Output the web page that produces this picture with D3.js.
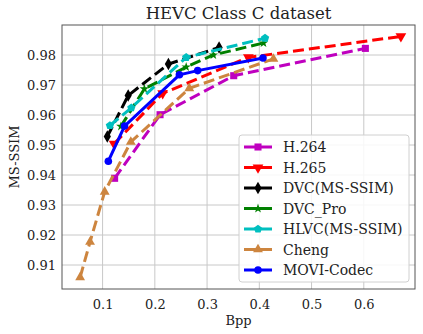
<!DOCTYPE html>
<html>
<head>
<meta charset="utf-8">
<script src="https://cdn.jsdelivr.net/npm/d3@7"></script>
<style>
  body { margin: 0; background: #fff; }
  svg text { font-family: "DejaVu Serif", serif; fill: #222; }
</style>
</head>
<body>
<svg id="chart" width="423" height="334"></svg>
<script>
// data
const seriesNames = ["H.264", "H.265", "DVC(MS-SSIM)", "DVC_Pro", "HLVC(MS-SSIM)", "Cheng", "MOVI-Codec"];
const h264 = [[0.123, 0.9389], [0.210, 0.9601], [0.351, 0.9731], [0.603, 0.9822]];
const h265 = [[0.122, 0.9504], [0.215, 0.9672], [0.379, 0.9792], [0.671, 0.9862]];
const dvc = [[0.109, 0.9528], [0.149, 0.9665], [0.226, 0.9770], [0.323, 0.9825]];
const dvcPro = [[0.135, 0.9562], [0.180, 0.9687], [0.260, 0.9760], [0.312, 0.9800], [0.408, 0.9840]];
const hlvc = [[0.114, 0.9565], [0.155, 0.9624], [0.260, 0.9792], [0.411, 0.9856]];
const cheng = [[0.057, 0.9059], [0.076, 0.9177], [0.104, 0.9344], [0.154, 0.9510], [0.266, 0.9689], [0.427, 0.9787]];
const movi = [[0.111, 0.9446], [0.142, 0.9563], [0.247, 0.9734], [0.282, 0.9748], [0.407, 0.9790]];
const xTicks = [0.1, 0.2, 0.3, 0.4, 0.5, 0.6];
const yTicks = [0.91, 0.92, 0.93, 0.94, 0.95, 0.96, 0.97, 0.98];

const series = [
  { name: seriesNames[0], data: h264, color: "#bf00bf", dash: true, sym: d3.symbolSquare, size: 50 },
  { name: seriesNames[1], data: h265, color: "#ff0000", dash: true, sym: "tridown", size: 50 },
  { name: seriesNames[2], data: dvc, color: "#000000", dash: true, sym: d3.symbolDiamond, size: 45 },
  { name: seriesNames[3], data: dvcPro, color: "#008000", dash: true, sym: d3.symbolStar, size: 28 },
  { name: seriesNames[4], data: hlvc, color: "#00bfbf", dash: true, sym: "pentagon", size: 45 },
  { name: seriesNames[5], data: cheng, color: "#cd853f", dash: true, sym: d3.symbolTriangle, size: 42 },
  { name: seriesNames[6], data: movi, color: "#0000ff", dash: false, sym: d3.symbolCircle, size: 45 }
];

const svg = d3.select("#chart");
const margin = { top: 25, right: 8, bottom: 45, left: 62 };
const W = 423, H = 334;

const x = d3.scaleLinear().domain([0.0223, 0.698]).range([margin.left, W - margin.right]);
const y = d3.scaleLinear().domain([0.902, 0.990]).range([H - margin.bottom, margin.top]);

// grid
const grid = svg.append("g");
grid.selectAll(".gx").data(xTicks).enter().append("line")
  .attr("x1", d => x(d)).attr("x2", d => x(d))
  .attr("y1", margin.top).attr("y2", H - margin.bottom)
  .attr("stroke", "#c8c8c8").attr("stroke-width", 1);
grid.selectAll(".gy").data(yTicks).enter().append("line")
  .attr("y1", d => y(d)).attr("y2", d => y(d))
  .attr("x1", margin.left).attr("x2", W - margin.right)
  .attr("stroke", "#c8c8c8").attr("stroke-width", 1);

// axes, no tick marks
const xAxis = d3.axisBottom(x).tickValues(xTicks).tickFormat(d3.format(".1f")).tickSize(0).tickPadding(7);
const yAxis = d3.axisLeft(y).tickValues(yTicks).tickFormat(d3.format(".2f")).tickSize(0).tickPadding(6);
const gx = svg.append("g").attr("transform", `translate(0,${H - margin.bottom})`).call(xAxis);
const gy = svg.append("g").attr("transform", `translate(${margin.left},0)`).call(yAxis);
[gx, gy].forEach(g => {
  g.select(".domain").remove();
  g.selectAll("text").attr("font-size", 13).attr("fill", "#222").style("font-family", "DejaVu Serif");
});
gx.selectAll("text").attr("dy", "1.0em");

function symPath(s, size) {
  if (s === "tridown") return d3.symbol(d3.symbolTriangle, size)();
  if (s === "pentagon") {
    const r = Math.sqrt(size / 2.38);
    const pts = d3.range(5).map(i => {
      const a = -Math.PI / 2 + i * 2 * Math.PI / 5;
      return [r * Math.cos(a), r * Math.sin(a)];
    });
    return "M" + pts.join("L") + "Z";
  }
  return d3.symbol(s, size)();
}
function symRotate(s) { return s === "tridown" ? " rotate(180)" : ""; }

const line = d3.line().x(d => x(d[0])).y(d => y(d[1]));
const plot = svg.append("g");
series.forEach(s => {
  plot.append("path").datum(s.data)
    .attr("d", line).attr("fill", "none")
    .attr("stroke", s.color).attr("stroke-width", 3)
    .attr("stroke-dasharray", s.dash ? "11,5" : null);
  plot.selectAll(null).data(s.data).enter().append("path")
    .attr("d", symPath(s.sym, s.size))
    .attr("transform", d => `translate(${x(d[0])},${y(d[1])})${symRotate(s.sym)}`)
    .attr("fill", s.color);
});

// frame
svg.append("rect")
  .attr("x", margin.left).attr("y", margin.top)
  .attr("width", W - margin.right - margin.left).attr("height", H - margin.bottom - margin.top)
  .attr("fill", "none").attr("stroke", "#555").attr("stroke-width", 1);

// title and labels
svg.append("text").attr("x", (margin.left + W - margin.right) / 2).attr("y", 19)
  .attr("text-anchor", "middle").attr("font-size", 16.5).text("HEVC Class C dataset");
svg.append("text").attr("x", (margin.left + W - margin.right) / 2).attr("y", 325)
  .attr("text-anchor", "middle").attr("font-size", 13).text("Bpp");
svg.append("text").attr("transform", `translate(19,${(margin.top + H - margin.bottom) / 2}) rotate(-90)`)
  .attr("text-anchor", "middle").attr("font-size", 13).text("MS-SSIM");

// legend
const lg = svg.append("g").attr("transform", "translate(239,135)");
lg.append("rect").attr("width", 170).attr("height", 147).attr("rx", 3)
  .attr("fill", "#fff").attr("fill-opacity", 0.85).attr("stroke", "#d0d0d0");
series.forEach((s, i) => {
  const yy = 12 + i * 20.5;
  lg.append("line").attr("x1", 5).attr("x2", 33).attr("y1", yy).attr("y2", yy)
    .attr("stroke", s.color).attr("stroke-width", 3);
  lg.append("path").attr("d", symPath(s.sym, s.size))
    .attr("transform", `translate(19,${yy})${symRotate(s.sym)}`).attr("fill", s.color);
  lg.append("text").attr("x", 44).attr("y", yy + 5).attr("font-size", 14).text(s.name);
});
</script>
</body>
</html>
